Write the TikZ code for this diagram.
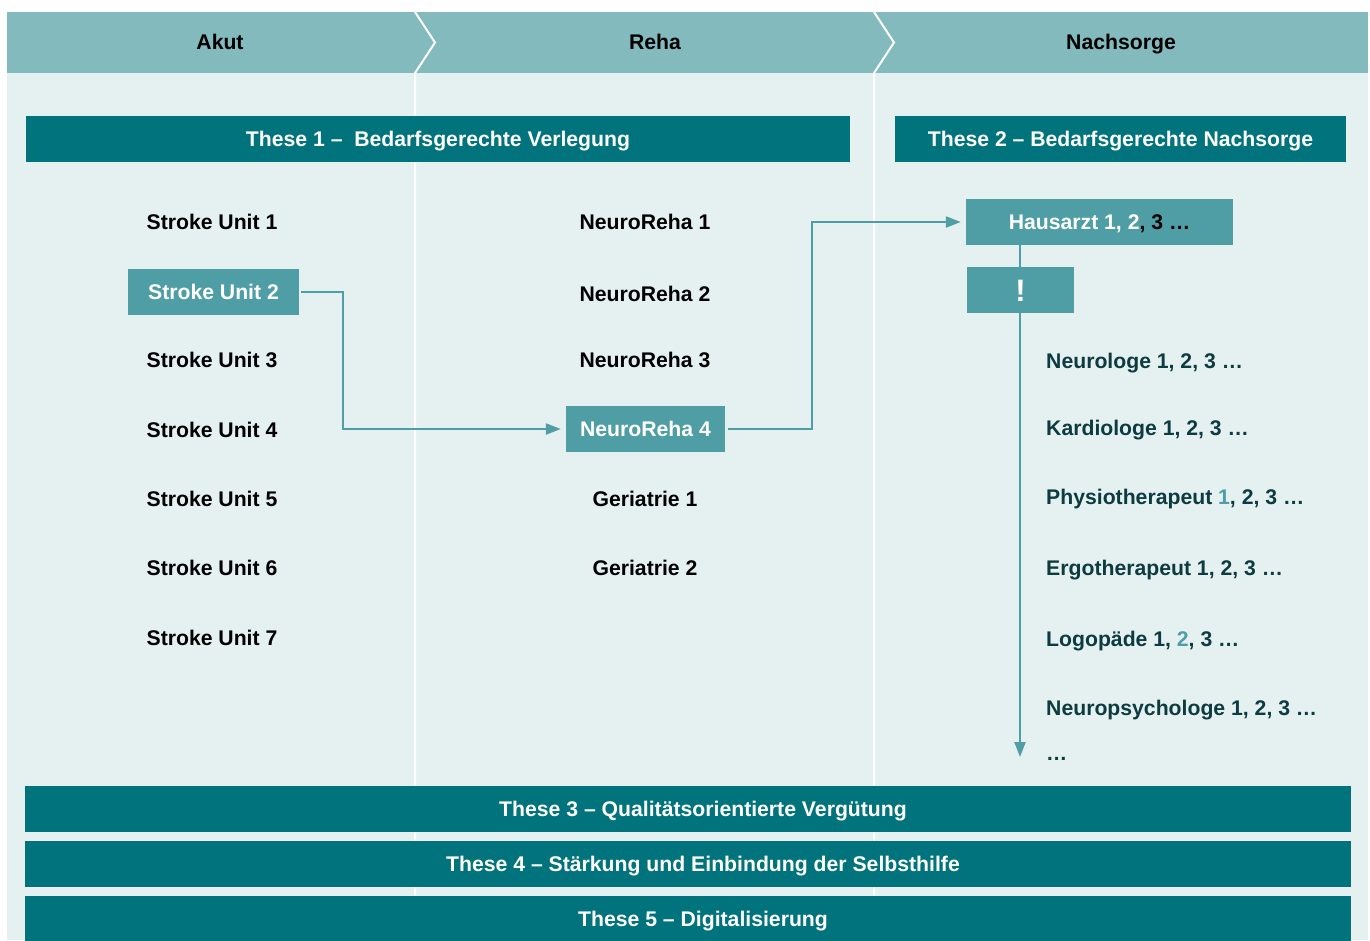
\documentclass[tikz,border=0pt]{standalone}
\usepackage{fontspec}
\setmainfont{Liberation Sans}
\usepackage{tikz}
\usetikzlibrary{arrows.meta,positioning,calc}
\definecolor{headteal}{HTML}{82BABE}
\definecolor{paleteal}{HTML}{E5F1F1}
\definecolor{deepteal}{HTML}{00737C}
\definecolor{midteal}{HTML}{4F9EA5}
\definecolor{inkteal}{HTML}{0D3B40}

\begin{document}
\begin{tikzpicture}[
  x=1pt, y=-1pt,
  every node/.style = {font=\fontsize{21.2}{25}\selectfont\bfseries, inner sep=0pt,
    text height=15pt, text depth=0pt},
  these bar/.style = {fill=deepteal, text=white, minimum height=46pt},
  wide bar/.style = {these bar, minimum width=1326pt},
  phase label/.style = {text=black},
  unit label/.style = {text=black},
  active box/.style = {fill=midteal, text=white, minimum height=46pt},
  care label/.style = {text=inkteal, anchor=west},
  flow arrow/.style = {draw=midteal, line width=2.2pt, -{Triangle[length=15pt,width=11pt]}},
  phase line/.style = {draw=white, line width=2pt},
  ]
  \useasboundingbox (0,0) rectangle (1370,940);
  \fill[white] (0,0) rectangle (1370,940);
  \fill[paleteal] (7,12) rectangle (1368,940);
  \fill[headteal] (7,12) rectangle (1368,73);
  % phase separators
  \foreach \x in {415,874} {
    \draw[phase line] (\x,12) -- (\x+20,42.5) -- (\x,73) -- (\x,940);
  }
  \node[phase label] (akut) at (220,42) {Akut};
  \node[phase label] (reha) at (655,42) {Reha};
  \node[phase label] (nachsorge) at (1121,42) {Nachsorge};
  % theses
  \node[these bar, minimum width=824pt] (these1) at (438,139) {These 1 –\ \ Bedarfsgerechte Verlegung};
  \node[these bar, minimum width=451pt] (these2) at (1120.5,139) {These 2 – Bedarfsgerechte Nachsorge};
  \node[wide bar] (these3) at (688,809) {\hspace*{30pt}These 3 – Qualitätsorientierte Vergütung};
  \node[wide bar] (these4) at (688,864) {\hspace*{30pt}These 4 – Stärkung und Einbindung der Selbsthilfe};
  \node[wide bar] (these5) at (688,919) {\hspace*{30pt}These 5 – Digitalisierung};
  % acute
  \foreach \i/\y in {1/222,3/360,4/430,5/499,6/568,7/638} {
    \node[unit label] (su\i) at (212,\y) {Stroke Unit \i};
  }
  \node[active box, minimum width=171pt] (su2) at (213.5,292) {Stroke Unit 2};
  % rehab
  \foreach \i/\y in {1/222,2/294,3/360} {
    \node[unit label] (nr\i) at (645,\y) {NeuroReha \i};
  }
  \node[active box, minimum width=159pt] (nr4) at (645.5,429) {NeuroReha 4};
  \node[unit label] (ger1) at (645,499) {Geriatrie 1};
  \node[unit label] (ger2) at (645,568) {Geriatrie 2};
  % aftercare
  \node[active box, minimum width=267pt] (hausarzt) at (1099.5,222) {Hausarzt 1, 2{\color{black}, 3 …}};
  \coordinate (care end) at (1020,757);
  \draw[flow arrow] (hausarzt.south -| care end) -- (care end);
  \node[active box, minimum width=107pt, font=\fontsize{31}{34}\selectfont\bfseries,
    text height=22pt] (alert) at (1020.5,290) {!};
  \node[care label] (neuro) at (1046,361) {Neurologe 1, 2, 3 …};
  \node[care label] (kardio) at (1046,428) {Kardiologe 1, 2, 3 …};
  \node[care label] (physio) at (1046,497) {Physiotherapeut {\color{midteal}1}, 2, 3 …};
  \node[care label] (ergo) at (1046,568) {Ergotherapeut 1, 2, 3 …};
  \node[care label] (logo) at (1046,639) {Logopäde 1, {\color{midteal}2}, 3 …};
  \node[care label] (npsych) at (1046,708) {Neuropsychologe 1, 2, 3 …};
  \node[care label] (more) at (1046,753) {…};
  % pathway
  \draw[flow arrow] ([xshift=2pt]su2.east) -- ++(42,0) |- ([xshift=-5pt]nr4.west);
  \draw[flow arrow] ([xshift=3pt]nr4.east) -- ++(84,0) |- ([xshift=-5pt]hausarzt.west);
\end{tikzpicture}
\end{document}
